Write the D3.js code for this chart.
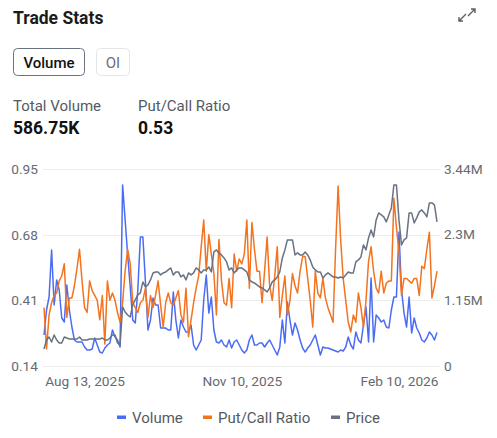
<!DOCTYPE html>
<html>
<head>
<meta charset="utf-8">
<script src="https://cdn.jsdelivr.net/npm/d3@7"></script>
<style>
  body { margin: 0; background: #fff; }
  svg { display: block; font-family: Roboto, "Noto Sans", sans-serif; }
</style>
</head>
<body>
<svg id="chart" width="497" height="438"></svg>
<script>
// ===== data =====
var volume = [541, 978, 1205, 2025, 1065, 1502, 1327, 838, 768, 1414, 978, 681, 454, 419, 419, 419, 332, 279, 279, 297,
  489, 367, 244, 227, 314, 367, 402, 629, 506, 454, 332, 3160, 2549, 1938, 1379, 803, 751, 1327, 2252, 2252,
  1467, 629, 803, 1187, 1065, 1065, 663, 663, 663, 629, 629, 1292, 803, 489, 803, 681, 594, 594, 716, 367,
  279, 367, 454, 1152, 1589, 925, 1205, 629, 419, 402, 454, 367, 332, 454, 314, 419, 454, 367, 279, 227,
  279, 454, 541, 367, 367, 402, 402, 332, 402, 454, 367, 279, 192, 332, 803, 402, 1117, 803, 541, 751,
  629, 454, 314, 244, 314, 367, 454, 541, 367, 192, 332, 314, 314, 297, 279, 262, 244, 279, 262, 332,
  506, 367, 297, 594, 454, 402, 716, 1030, 419, 1536, 419, 890, 838, 768, 803, 681, 663, 978, 1205, 1205,
  2340, 1327, 925, 681, 1205, 576, 838, 663, 576, 454, 419, 489, 594, 541, 454, 587]; // thousands

var putCall = [0.38, 0.21, 0.35, 0.40, 0.43, 0.44, 0.49, 0.51, 0.56, 0.34, 0.42, 0.42, 0.47, 0.54, 0.62, 0.49, 0.38, 0.36, 0.49, 0.45,
  0.43, 0.41, 0.33, 0.43, 0.23, 0.49, 0.41, 0.44, 0.41, 0.36, 0.32, 0.40, 0.53, 0.62, 0.56, 0.40, 0.38, 0.36, 0.40, 0.41,
  0.46, 0.34, 0.43, 0.38, 0.43, 0.49, 0.39, 0.30, 0.40, 0.44, 0.40, 0.39, 0.42, 0.45, 0.35, 0.32, 0.46, 0.26, 0.33, 0.40,
  0.46, 0.51, 0.63, 0.74, 0.53, 0.68, 0.60, 0.52, 0.35, 0.66, 0.49, 0.40, 0.39, 0.50, 0.38, 0.60, 0.53, 0.58, 0.56, 0.60,
  0.74, 0.46, 0.73, 0.62, 0.53, 0.53, 0.40, 0.53, 0.67, 0.47, 0.41, 0.51, 0.63, 0.34, 0.43, 0.51, 0.35, 0.41, 0.52, 0.47,
  0.44, 0.53, 0.59, 0.59, 0.50, 0.41, 0.30, 0.53, 0.44, 0.42, 0.50, 0.42, 0.38, 0.35, 0.32, 0.62, 0.88, 0.66, 0.50, 0.41,
  0.32, 0.28, 0.35, 0.32, 0.44, 0.38, 0.30, 0.41, 0.57, 0.63, 0.53, 0.46, 0.44, 0.53, 0.44, 0.48, 0.49, 0.49, 0.83, 0.71,
  0.61, 0.43, 0.50, 0.50, 0.49, 0.48, 0.50, 0.50, 0.43, 0.55, 0.54, 0.62, 0.69, 0.42, 0.47, 0.53];

var price = [11.22, 12.66, 13.14, 12.34, 13.46, 12.66, 12.18, 12.18, 13.14, 12.98, 12.82, 12.82, 12.82, 12.82, 13.14, 12.66, 12.66, 12.66, 12.82, 12.82,
  12.82, 12.82, 12.82, 12.98, 12.66, 12.66, 12.98, 13.46, 13.46, 12.18, 11.86, 17.94, 17.14, 16.66, 16.34, 18.26, 19.06, 19.86, 20.18, 21.94,
  21.14, 21.46, 22.26, 23.38, 23.54, 23.54, 23.06, 23.38, 23.54, 23.86, 24.18, 23.06, 23.54, 23.54, 22.74, 23.06, 22.26, 23.38, 23.06, 23.38,
  24.18, 23.86, 23.38, 23.86, 23.86, 24.34, 23.54, 26.74, 27.06, 26.58, 26.26, 25.78, 25.14, 23.86, 24.18, 23.38, 23.86, 24.18, 24.18, 23.86,
  23.54, 22.26, 21.94, 21.78, 21.46, 21.14, 20.98, 20.66, 20.34, 20.98, 21.94, 22.26, 22.74, 23.54, 25.78, 27.06, 28.66, 28.66, 28.66, 26.26,
  26.58, 26.26, 26.26, 26.74, 26.26, 25.46, 24.34, 23.86, 23.54, 23.54, 22.58, 23.06, 23.38, 23.06, 22.74, 22.74, 22.58, 22.74, 22.58, 23.06,
  23.54, 23.38, 23.38, 25.14, 25.46, 25.94, 27.86, 27.06, 28.98, 30.26, 29.14, 31.86, 32.98, 32.66, 32.34, 31.54, 32.66, 33.78, 37.46, 37.46,
  31.86, 27.86, 28.66, 28.98, 32.98, 32.98, 31.38, 32.18, 33.14, 33.46, 32.98, 32.34, 34.58, 34.58, 34.26, 31.54];

var xTickIndex = [16, 78, 140];
var xTickLabels = ["Aug 13, 2025", "Nov 10, 2025", "Feb 10, 2026"];
var leftTicks = [0.14, 0.41, 0.68, 0.95];
var rightTicks = [0, 1150, 2300, 3440];
var rightTickLabels = ["0", "1.15M", "2.3M", "3.44M"];

var seriesNames = ["Volume", "Put/Call Ratio", "Price"];
var seriesColors = ["#4a6cf4", "#f4731f", "#687283"];

// ===== layout =====
var svg = d3.select("#chart");
var plotLeft = 44, plotRight = 437, gridRight = 440, plotTop = 169, plotBottom = 366;
var axisFont = 13.7;

// header
svg.append("text").attr("x", 13).attr("y", 24)
  .attr("font-size", 17.5).attr("font-weight", 700).attr("fill", "#1b1b1b")
  .text("Trade Stats");

// expand icon
var icon = svg.append("g").attr("stroke", "#5a5f66").attr("stroke-width", 1.4).attr("fill", "none");
icon.append("path").attr("d", "M468 16 L475 9 M471 9 L475 9 L475 13");
icon.append("path").attr("d", "M466 14 L459 21 M459 17 L459 21 L463 21");

// toggle buttons
svg.append("rect").attr("x", 13.5).attr("y", 48.5).attr("width", 71).attr("height", 27).attr("rx", 4)
  .attr("fill", "#fff").attr("stroke", "#6b7280");
svg.append("text").attr("x", 49).attr("y", 67.5).attr("text-anchor", "middle")
  .attr("font-size", 15).attr("font-weight", 500).attr("fill", "#111").text("Volume");
svg.append("rect").attr("x", 96.5).attr("y", 48.5).attr("width", 33).attr("height", 27).attr("rx", 4)
  .attr("fill", "#fff").attr("stroke", "#e6e6e6");
svg.append("text").attr("x", 113).attr("y", 67.5).attr("text-anchor", "middle")
  .attr("font-size", 15).attr("fill", "#6b6f76").text("OI");

// stats
svg.append("text").attr("x", 13).attr("y", 111).attr("font-size", 15).attr("fill", "#555a61").text("Total Volume");
svg.append("text").attr("x", 13).attr("y", 134).attr("font-size", 17.5).attr("font-weight", 700).attr("fill", "#111").text("586.75K");
svg.append("text").attr("x", 138).attr("y", 111).attr("font-size", 15).attr("fill", "#555a61").text("Put/Call Ratio");
svg.append("text").attr("x", 138).attr("y", 134).attr("font-size", 17.5).attr("font-weight", 700).attr("fill", "#111").text("0.53");

// ===== scales =====
var x = d3.scaleLinear().domain([0, volume.length - 1]).range([plotLeft, plotRight]);
var yLeft = d3.scaleLinear().domain([0.14, 0.95]).range([plotBottom, plotTop]);
var yRight = d3.scaleLinear().domain([0, 3440]).range([plotBottom, plotTop]);
var yPrice = d3.scaleLinear().domain([8.5, 40]).range([plotBottom, plotTop]);

// gridlines
svg.append("g").selectAll("line").data(leftTicks).enter().append("line")
  .attr("x1", plotLeft - 1).attr("x2", gridRight)
  .attr("y1", function (d) { return Math.round(yLeft(d)) + 0.5; })
  .attr("y2", function (d) { return Math.round(yLeft(d)) + 0.5; })
  .attr("stroke", "#ececec");

// left axis
var leftAxis = svg.append("g").attr("transform", "translate(" + (plotLeft - 6) + ",0)")
  .call(d3.axisLeft(yLeft).tickValues(leftTicks).tickFormat(d3.format(".2f")).tickSize(0).tickPadding(0));
leftAxis.select(".domain").remove();
leftAxis.selectAll("text").attr("font-size", axisFont).attr("fill", "#666a70").attr("font-family", "Roboto");

// right axis
var rightAxis = svg.append("g").attr("transform", "translate(" + (gridRight + 4) + ",0)")
  .call(d3.axisRight(yRight).tickValues(rightTicks)
    .tickFormat(function (d, i) { return rightTickLabels[i]; }).tickSize(0).tickPadding(0));
rightAxis.select(".domain").remove();
rightAxis.selectAll("text").attr("font-size", axisFont).attr("fill", "#666a70").attr("font-family", "Roboto");

// x axis
var xAxis = svg.append("g").attr("transform", "translate(0," + (plotBottom + 10) + ")")
  .call(d3.axisBottom(x).tickValues(xTickIndex)
    .tickFormat(function (d, i) { return xTickLabels[i]; }).tickSize(0).tickPadding(0));
xAxis.select(".domain").remove();
xAxis.selectAll("text").attr("font-size", axisFont).attr("fill", "#666a70").attr("font-family", "Roboto");

// ===== lines =====
function drawLine(values, yScale, color) {
  var line = d3.line()
    .x(function (d, i) { return x(i); })
    .y(function (d) { return yScale(d); });
  svg.append("path").datum(values)
    .attr("fill", "none").attr("stroke", color).attr("stroke-width", 1.5)
    .attr("stroke-linejoin", "round")
    .attr("d", line);
}
drawLine(volume, yRight, seriesColors[0]);
drawLine(putCall, yLeft, seriesColors[1]);
drawLine(price, yPrice, seriesColors[2]);

// ===== legend =====
var legendX = [117, 203, 331];
var legend = svg.append("g").selectAll("g").data(seriesNames).enter().append("g")
  .attr("transform", function (d, i) { return "translate(" + legendX[i] + ",417)"; });
legend.append("rect").attr("x", 0).attr("y", -1.5).attr("width", 9).attr("height", 3.5)
  .attr("fill", function (d, i) { return seriesColors[i]; });
legend.append("text").attr("x", 15).attr("y", 5.5).attr("font-size", 15).attr("fill", "#555a61")
  .text(function (d) { return d; });
</script>
</body>
</html>
